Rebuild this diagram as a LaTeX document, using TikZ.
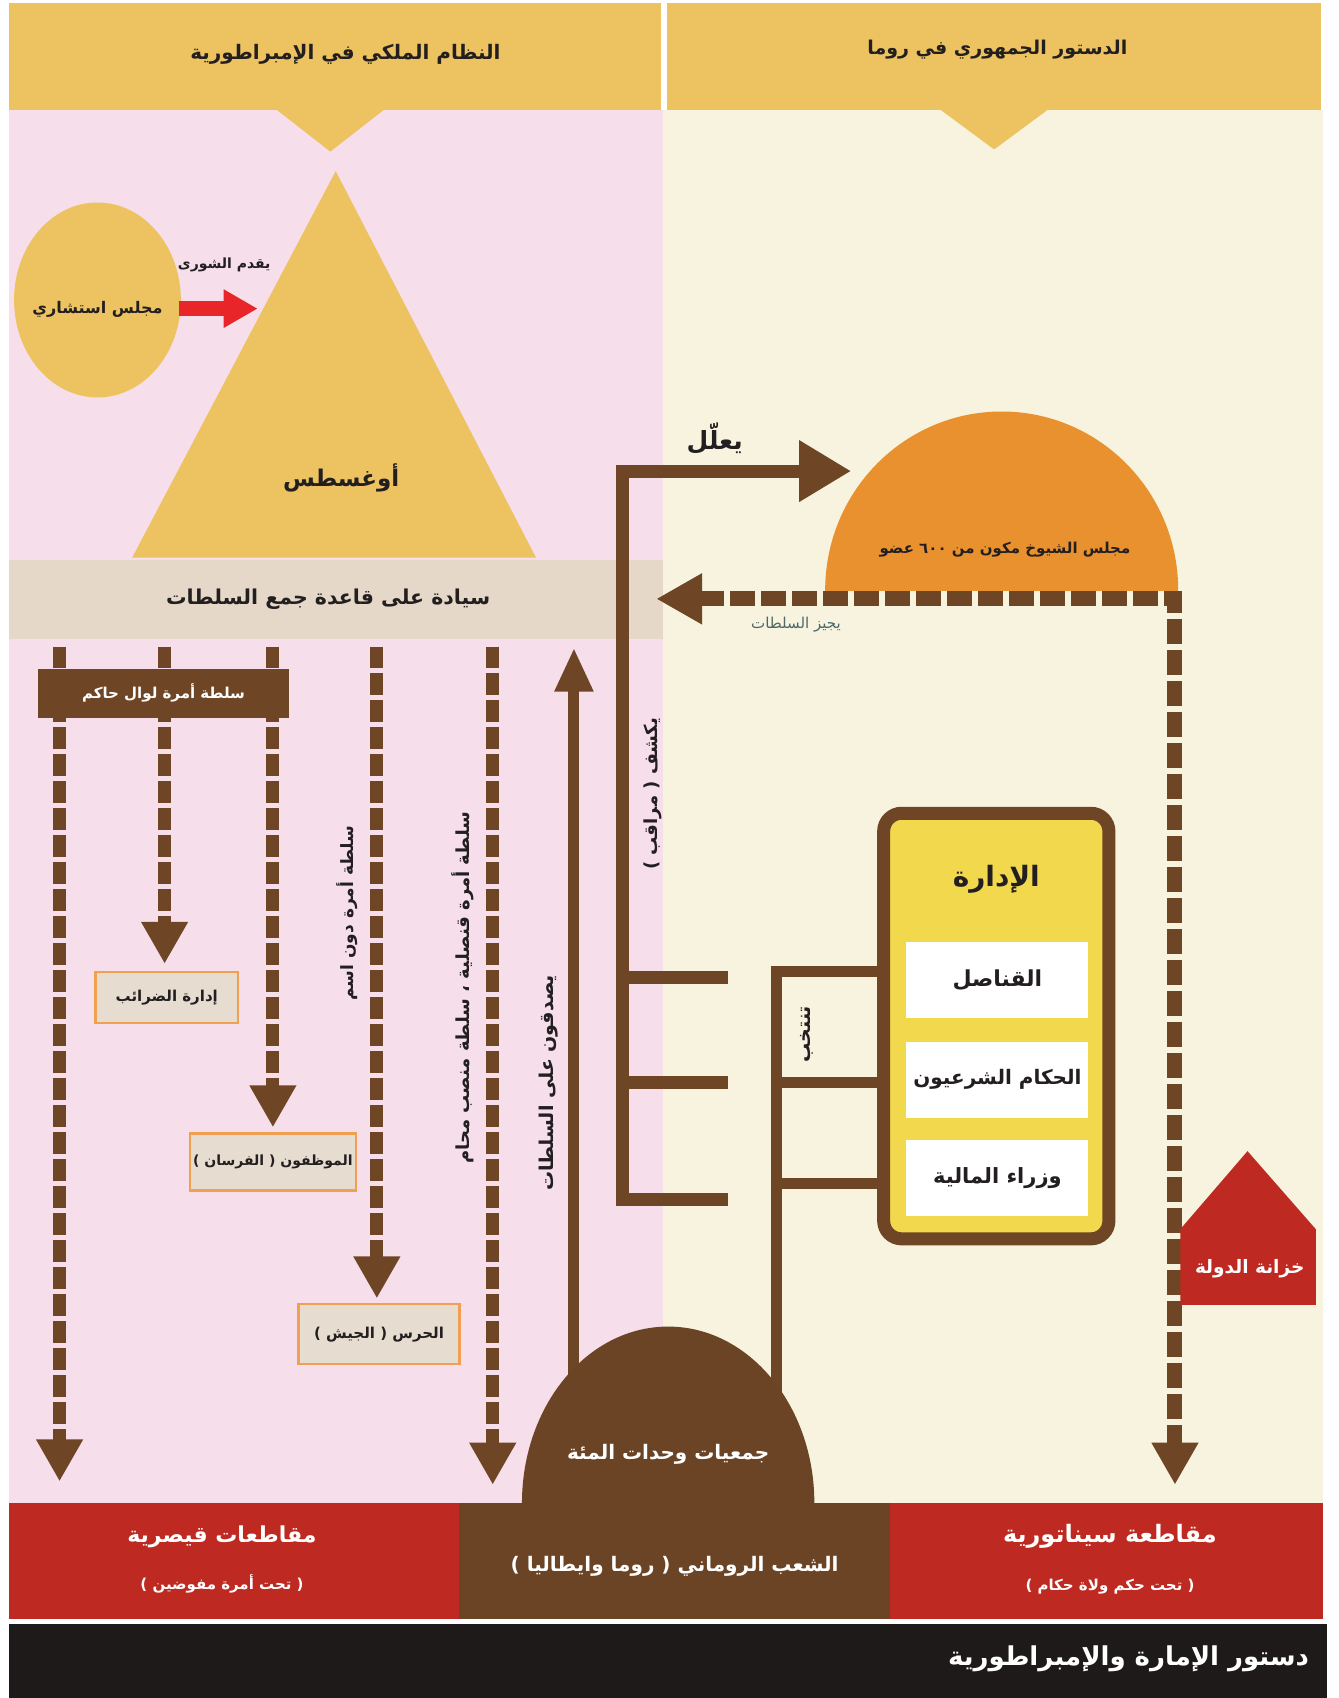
\documentclass[tikz,border=0pt]{standalone}
\usepackage{fontspec}
\TeXXeTstate=1
\newfontfamily\arfont[Script=Arabic]{DejaVu Sans}
\newfontfamily\lfont{DejaVu Sans}
\usetikzlibrary{arrows.meta,shapes.geometric}
\newcommand{\AR}[1]{\beginR #1\endR}
\newcommand{\LPar}{{\lfont(}}
\newcommand{\RPar}{{\lfont)}}
\newcommand{\fsz}[1]{\fontsize{#1}{#1}\selectfont}
\definecolor{gold}{RGB}{236,195,96}
\definecolor{pinkbg}{RGB}{246,222,234}
\definecolor{creambg}{RGB}{247,243,222}
\definecolor{bandc}{RGB}{229,216,201}
\definecolor{brn}{RGB}{110,70,38}
\definecolor{redarr}{RGB}{232,38,42}
\definecolor{senate}{RGB}{233,145,46}
\definecolor{admfill}{RGB}{242,216,76}
\definecolor{boxfill}{RGB}{230,221,208}
\definecolor{boxedge}{RGB}{240,160,80}
\definecolor{redp}{RGB}{190,42,34}
\definecolor{brownp}{RGB}{107,68,38}
\definecolor{blk}{RGB}{30,26,26}
\definecolor{txt}{RGB}{35,31,32}
\definecolor{teal}{RGB}{74,106,106}
\tikzset{
  solidline/.style={draw=brn, line width=12pt},
  dashline/.style={draw=brn, line width=13pt, dash pattern=on 22pt off 5pt},
  hdrtext/.style={text=txt, font=\arfont\bfseries\fsz{20}},
  lbl/.style={text=txt, font=\arfont\bfseries\fsz{14}},
  vlbl/.style={text=txt, font=\arfont\bfseries\fsz{18}, rotate=90},
  smallbox/.style={draw=boxedge, line width=2.5pt, fill=boxfill, text=txt, font=\arfont\bfseries\fsz{15}},
  whitebox/.style={fill=white, text=txt, font=\arfont\bfseries\fsz{20}, minimum width=182pt, minimum height=76pt},
  whitetext/.style={text=white, font=\arfont\bfseries\fsz{20}}
}
\begin{document}
\begin{tikzpicture}[x=1.08333pt,y=-1.08333pt]
\useasboundingbox (0,0) rectangle (1236,1568);
\fill[white] (0,0) rectangle (1236,1568);
% backgrounds
\fill[pinkbg] (8,102) rectangle (612,1388);
\fill[creambg] (612,102) rectangle (1222,1388);
% headers
\fill[gold] (8,3) rectangle (610,102);
\fill[gold] (255,101) -- (355,101) -- (305,140) -- cycle;
\fill[gold] (616,3) rectangle (1220,102);
\fill[gold] (868,101) -- (968,101) -- (918,138) -- cycle;
\node[hdrtext] (hleft) at (319,50) {\AR{النظام الملكي في الإمبراطورية}};
\node[hdrtext, font=\arfont\bfseries\fsz{19}] (hright) at (921,46) {\AR{الدستور الجمهوري في روما}};
% advisory council and Augustus
\fill[gold] (90,277) ellipse [x radius=77, y radius=90];
\node[lbl, font=\arfont\bfseries\fsz{16}] (council) at (90,286) {\AR{مجلس استشاري}};
\fill[gold] (310,158) -- (495,515) -- (122,515) -- cycle;
\node[text=txt, font=\arfont\bfseries\fsz{23}] (aug) at (315,441) {\AR{أوغسطس}};
\coordinate (raS) at (165,285);
\coordinate (raE) at (238,285);
\draw[draw=redarr, line width=15pt, -{Triangle[length=34pt,width=36pt]}] (raS) -- (raE);
\node[lbl] (advice) at (207,245) {\AR{يقدم الشورى}};
% band
\fill[bandc] (8,517) rectangle (612,590);
\node[hdrtext, font=\arfont\bfseries\fsz{20.5}] (band) at (303,553) {\AR{سيادة على قاعدة جمع السلطات}};
% senate
\begin{scope}
  \clip (700,300) rectangle (1150,545);
  \fill[senate] (925,545) ellipse [x radius=163, y radius=165];
\end{scope}
\node[lbl, font=\arfont\bfseries\fsz{15}] (senatet) at (928,508) {\AR{مجلس الشيوخ مكون من \beginL ٦٠٠\endL{} عضو}};
% justify arrow (E shape)
\coordinate (eb) at (672,1108);
\coordinate (ec) at (575,1108);
\coordinate (et) at (575,435);
\coordinate (ea) at (786,435);
\draw[solidline, line width=13pt, -{Triangle[length=52pt,width=58pt]}] (eb) -- (ec) -- (et) -- (ea);
\draw[solidline, line width=13pt] (575,903) -- (672,903);
\draw[solidline, line width=13pt] (575,1000) -- (672,1000);
\node[text=txt, font=\arfont\bfseries\fsz{25}] (justify) at (660,405) {\AR{يعلّل}};
% senate dashed arrows
\coordinate (sl) at (606,553);
\coordinate (sc) at (1085,553);
\coordinate (sb) at (1085,1371);
\draw[dashline, line width=15pt, dash pattern=on 25pt off 6pt, {Triangle[length=46pt,width=48pt]}-{Triangle[length=42pt,width=44pt]}] (sl) -- (sc) -- (sb);
\node[text=teal, font=\arfont\fsz{15}] (approve) at (735,577) {\AR{يجيز السلطات}};
% left dashed lines
\draw[dashline, -{Triangle[length=42pt,width=44pt]}] (55,597) -- (55,1368);
\draw[dashline, -{Triangle[length=42pt,width=44pt]}] (152,597) -- (152,890);
\draw[dashline, -{Triangle[length=42pt,width=44pt]}] (252,597) -- (252,1041);
\draw[dashline, -{Triangle[length=42pt,width=44pt]}] (348,597) -- (348,1199);
\draw[dashline, -{Triangle[length=42pt,width=44pt]}] (455,597) -- (455,1371);
\node[fill=brn, text=white, font=\arfont\bfseries\fsz{15}, minimum width=251pt, minimum height=49pt] (gov) at (151,640) {\AR{سلطة أمرة لوال حاكم}};
\node[smallbox, minimum width=143pt, minimum height=51pt] (tax) at (154,921) {\AR{إدارة الضرائب}};
\node[smallbox, minimum width=157pt, minimum height=57pt, font=\arfont\bfseries\fsz{14}] (officials) at (252,1073) {\LPar{} \AR{الفرسان} \RPar{} \AR{الموظفون}};
\node[smallbox, minimum width=161pt, minimum height=60pt] (guard) at (350,1232) {\LPar{} \AR{الجيش} \RPar{} \AR{الحرس}};
\node[vlbl, font=\arfont\bfseries\fsz{17}] (v1) at (321,843) {\AR{سلطة أمرة دون اسم}};
\node[vlbl] (v2) at (427,912) {\AR{سلطة أمرة قنصلية ، سلطة منصب محام}};
% up arrow from people
\coordinate (ua) at (530,1280);
\coordinate (ub) at (530,598);
\draw[solidline, line width=11pt, -{Triangle[length=44pt,width=36pt]}] (ua) -- (ub);
\node[vlbl, font=\arfont\bfseries\fsz{19}] (ratify) at (507,1000) {\AR{يصدقون على السلطات}};
\node[vlbl] (watch) at (603,733) {\LPar{} \AR{مراقب} \RPar{} \AR{يكشف}};
% administration
\draw[draw=brn, line width=13pt, fill=admfill, rounded corners=18pt] (816,751) rectangle (1024,1144);
\node[text=txt, font=\arfont\bfseries\fsz{28}] (adm) at (920,812) {\AR{الإدارة}};
\node[whitebox, font=\arfont\bfseries\fsz{22}] (cons) at (921,905) {\AR{القناصل}};
\node[whitebox] (judges) at (921,997) {\AR{الحكام الشرعيون}};
\node[whitebox, font=\arfont\bfseries\fsz{21}] (fin) at (921,1088) {\AR{وزراء المالية}};
\coordinate (va) at (717,1285);
\coordinate (vt) at (717,897);
\coordinate (vr) at (811,897);
\draw[solidline, line width=11pt] (va) -- (vt) -- (vr);
\draw[solidline, line width=11pt] (717,1000) -- (811,1000);
\draw[solidline, line width=11pt] (717,1093) -- (811,1093);
\node[vlbl, font=\arfont\bfseries\fsz{19}] (elect) at (745,955) {\AR{تنتخب}};
% treasury
\fill[redp] (1090,1135) -- (1152,1063) -- (1215,1135) -- (1215,1205) -- (1090,1205) -- cycle;
\node[text=white, font=\arfont\bfseries\fsz{18.5}] (treas) at (1154,1172) {\AR{خزانة الدولة}};
% bottom panels
\fill[redp] (8,1388) rectangle (424,1495);
\fill[brownp] (424,1388) rectangle (822,1495);
\fill[redp] (822,1388) rectangle (1222,1495);
\begin{scope}
  \clip (400,1100) rectangle (850,1390);
  \fill[brownp] (617,1388) ellipse [x radius=135, y radius=163];
\end{scope}
\node[whitetext] (cent) at (617,1343) {\AR{جمعيات وحدات المئة}};
\node[whitetext, font=\arfont\bfseries\fsz{22}] (caes) at (205,1419) {\AR{مقاطعات قيصرية}};
\node[whitetext, font=\arfont\bfseries\fsz{15}] (caes2) at (205,1463) {\LPar{} \AR{تحت أمرة مفوضين} \RPar};
\node[whitetext] (people) at (623,1446) {\LPar{} \AR{روما وايطاليا} \RPar{} \AR{الشعب الروماني}};
\node[whitetext, font=\arfont\bfseries\fsz{24}] (sen) at (1025,1419) {\AR{مقاطعة سيناتورية}};
\node[whitetext, font=\arfont\bfseries\fsz{15}] (sen2) at (1025,1465) {\LPar{} \AR{تحت حكم ولاة حكام} \RPar};
% title bar
\fill[blk] (8,1500) rectangle (1225,1568);
\node[whitetext, font=\arfont\bfseries\fsz{26}, anchor=east] (title) at (1212,1532) {\AR{دستور الإمارة والإمبراطورية}};
\end{tikzpicture}
\end{document}
